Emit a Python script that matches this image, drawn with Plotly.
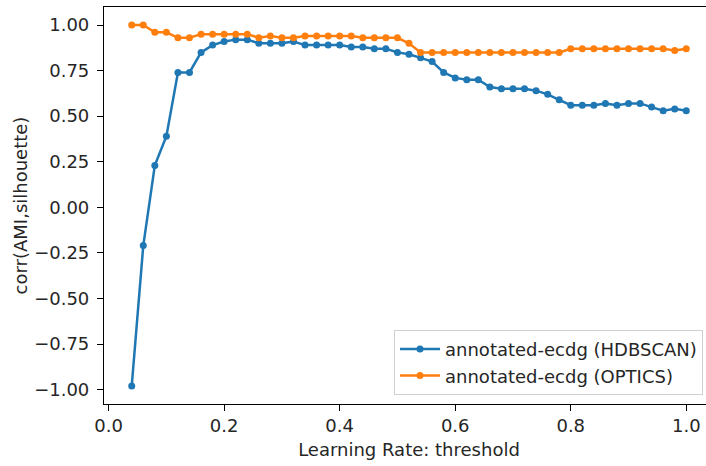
import plotly.graph_objects as go

thresholds = [0.04, 0.06, 0.08, 0.10, 0.12, 0.14, 0.16, 0.18, 0.20, 0.22,
              0.24, 0.26, 0.28, 0.30, 0.32, 0.34, 0.36, 0.38, 0.40, 0.42,
              0.44, 0.46, 0.48, 0.50, 0.52, 0.54, 0.56, 0.58, 0.60, 0.62,
              0.64, 0.66, 0.68, 0.70, 0.72, 0.74, 0.76, 0.78, 0.80, 0.82,
              0.84, 0.86, 0.88, 0.90, 0.92, 0.94, 0.96, 0.98, 1.00]

hdbscan = [-0.98, -0.21, 0.23, 0.39, 0.74, 0.74, 0.85, 0.89, 0.91, 0.92,
           0.92, 0.90, 0.90, 0.90, 0.91, 0.89, 0.89, 0.89, 0.89, 0.88,
           0.88, 0.87, 0.87, 0.85, 0.84, 0.82, 0.80, 0.74, 0.71, 0.70,
           0.70, 0.66, 0.65, 0.65, 0.65, 0.64, 0.62, 0.59, 0.56, 0.56,
           0.56, 0.57, 0.56, 0.57, 0.57, 0.55, 0.53, 0.54, 0.53]

optics = [1.00, 1.00, 0.96, 0.96, 0.93, 0.93, 0.95, 0.95, 0.95, 0.95,
          0.95, 0.93, 0.94, 0.93, 0.93, 0.94, 0.94, 0.94, 0.94, 0.94,
          0.93, 0.93, 0.93, 0.93, 0.90, 0.85, 0.85, 0.85, 0.85, 0.85,
          0.85, 0.85, 0.85, 0.85, 0.85, 0.85, 0.85, 0.85, 0.87, 0.87,
          0.87, 0.87, 0.87, 0.87, 0.87, 0.87, 0.87, 0.86, 0.87]

series_names = ["annotated-ecdg (HDBSCAN)", "annotated-ecdg (OPTICS)"]
series_colors = ["#1f77b4", "#ff7f0e"]

x_ticks = [0.0, 0.2, 0.4, 0.6, 0.8, 1.0]
x_tick_text = ["0.0", "0.2", "0.4", "0.6", "0.8", "1.0"]
y_ticks = [1.0, 0.75, 0.5, 0.25, 0.0, -0.25, -0.5, -0.75, -1.0]
y_tick_text = ["1.00", "0.75", "0.50", "0.25", "0.00", "\u22120.25", "\u22120.50", "\u22120.75", "\u22121.00"]

FONT = "DejaVu Sans"
FS = 18
TXT = "#262626"

fig = go.Figure()
for name, vals, col in zip(series_names, [hdbscan, optics], series_colors):
    fig.add_trace(go.Scatter(
        x=thresholds, y=vals, name=name, mode="lines+markers",
        line=dict(color=col, width=2.5),
        marker=dict(color=col, size=7),
    ))

axis_common = dict(
    showgrid=False, zeroline=False, showline=True, linecolor="#000000", linewidth=1.2,
    ticks="outside", ticklen=6, tickwidth=1.2, tickcolor="#000000",
    tickfont=dict(family=FONT, size=FS, color=TXT),
    automargin=False,
)

# The matplotlib original has its right spine beyond the image edge; the figure is
# made slightly wider than the window so that edge is clipped off the same way.
fig.update_layout(
    width=714, height=466,
    margin=dict(l=104, r=0, t=7, b=62),
    paper_bgcolor="white", plot_bgcolor="white",
    font=dict(family=FONT, size=FS, color=TXT),
    xaxis=dict(
        range=[-0.008, 1.048], tickvals=x_ticks, ticktext=x_tick_text,
        mirror=True, ticklabelstandoff=-1,
        title=dict(text="Learning Rate: threshold", standoff=8,
                   font=dict(family=FONT, size=FS, color=TXT)),
        **axis_common,
    ),
    yaxis=dict(
        range=[-1.079, 1.099], tickvals=y_ticks, ticktext=y_tick_text,
        ticklabelstandoff=4, mirror=False,
        title=dict(text="corr(AMI,silhouette)", standoff=1,
                   font=dict(family=FONT, size=FS, color=TXT)),
        **axis_common,
    ),
    legend=dict(
        x=0.982, y=0.023, xanchor="right", yanchor="bottom",
        bgcolor="white", bordercolor="#d0d0d0", borderwidth=1,
        font=dict(family=FONT, size=FS, color=TXT),
        itemwidth=40, tracegroupgap=0,
    ),
    showlegend=True,
)

fig.write_html(
    "out.html",
    config={"displayModeBar": False},
    post_script="document.body.style.margin='0';document.body.style.overflow='hidden';",
)
